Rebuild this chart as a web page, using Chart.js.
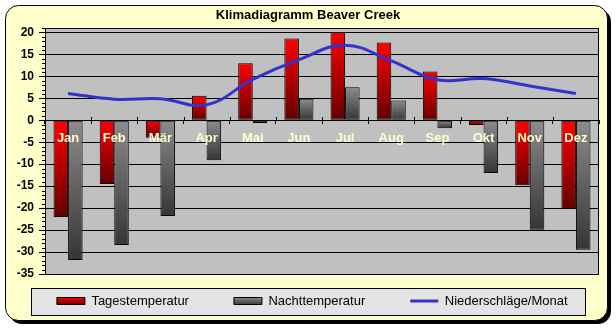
<!DOCTYPE html>
<html>
<head>
<meta charset="utf-8">
<script src="https://cdn.jsdelivr.net/npm/chart.js@4.4.1/dist/chart.umd.min.js"></script>
<style>
  html, body { margin: 0; padding: 0; background: #fff; }
</style>
</head>
<body>
<canvas id="klima" width="616" height="330"></canvas>
<script>
// Data
const months = ["Jan", "Feb", "Mär", "Apr", "Mai", "Jun", "Jul", "Aug", "Sep", "Okt", "Nov", "Dez"];
const dayTemp = [-22, -14.5, -4, 5.6, 13, 18.6, 20.1, 17.7, 11.1, -1.1, -14.8, -20.2];
const nightTemp = [-31.8, -28.4, -21.8, -9.1, -0.6, 4.9, 7.5, 4.5, -1.8, -12, -24.9, -29.5];
const precipitation = [6.1, 4.8, 4.9, 3.5, 9.3, 13.8, 17.1, 13.5, 9.2, 9.5, 7.8, 6.1];
const yTicks = [-35, -30, -25, -20, -15, -10, -5, 0, 5, 10, 15, 20];
const seriesNames = ["Tagestemperatur", "Nachttemperatur", "Niederschläge/Monat"];

const FONT = "'Liberation Sans', Arial, sans-serif";
const RED = ["#ff0000", "#640000"];
const GREY = ["#8c8c8c", "#353535"];
const BLUE = "#3333cc";

// gradient per bar, light at the top of the bar, dark at the bottom
function barFill(colors) {
  return function (ctx) {
    const chart = ctx.chart;
    if (!chart.chartArea || ctx.type !== "data") return colors[0];
    const y = chart.scales.y;
    const v = ctx.raw;
    const g = chart.ctx.createLinearGradient(0, y.getPixelForValue(Math.max(v, 0)), 0, y.getPixelForValue(Math.min(v, 0)));
    g.addColorStop(0, colors[0]);
    g.addColorStop(1, colors[1]);
    return g;
  };
}

// yellow frame, grey plot area, legend box
const frame = {
  id: "frame",
  beforeDraw(chart) {
    const { ctx, chartArea: a } = chart;
    ctx.save();
    ctx.fillStyle = "#000";
    ctx.beginPath();
    ctx.roundRect(9, 9, 602, 315, 13);
    ctx.fill();
    ctx.fillStyle = "#ffffcc";
    ctx.strokeStyle = "#000";
    ctx.lineWidth = 1;
    ctx.beginPath();
    ctx.roundRect(5.5, 5.5, 602, 315, 13);
    ctx.fill();
    ctx.stroke();
    ctx.fillStyle = "#c0c0c0";
    ctx.fillRect(a.left, a.top, a.width, a.height);
    ctx.fillStyle = "#e3e3e3";
    ctx.fillRect(31.5, 288.5, 554, 27);
    ctx.strokeRect(31.5, 288.5, 554, 27);
    ctx.restore();
  },
  beforeDatasetsDraw(chart) {
    const { ctx, chartArea: a, scales } = chart;
    ctx.save();
    ctx.strokeStyle = "#000";
    ctx.lineWidth = 1;
    ctx.strokeRect(Math.round(a.left) + 0.5, Math.round(a.top) + 0.5, Math.round(a.width) - 1, Math.round(a.height));
    // minor ticks on the y axis
    ctx.beginPath();
    for (let v = -35; v <= 21; v++) {
      if (v % 5 === 0) continue;
      const py = Math.round(scales.y.getPixelForValue(v)) + 0.5;
      ctx.moveTo(a.left - 3, py);
      ctx.lineTo(a.left, py);
    }
    // category marks reach a little above the zero line
    const zero = Math.round(scales.y.getPixelForValue(0));
    for (let i = 1; i < months.length; i++) {
      const px = Math.round((scales.x.getPixelForValue(i - 1) + scales.x.getPixelForValue(i)) / 2) + 0.5;
      ctx.moveTo(px, zero - 3);
      ctx.lineTo(px, zero);
    }
    ctx.stroke();
    ctx.restore();
  },
  afterLayout(chart) {
    const lg = chart.legend;
    lg.top = 249.5;
    lg.left = 2;
    lg.right = 622.5;
  },
};

new Chart(document.getElementById("klima"), {
  data: {
    labels: months,
    datasets: [
      {
        type: "bar",
        label: seriesNames[0],
        data: dayTemp,
        backgroundColor: barFill(RED),
        borderColor: "#000",
        borderWidth: 1,
        borderSkipped: false,
        categoryPercentage: 0.63,
        barPercentage: 1,
        order: 1,
      },
      {
        type: "bar",
        label: seriesNames[1],
        data: nightTemp,
        backgroundColor: barFill(GREY),
        borderColor: "#000",
        borderWidth: 1,
        borderSkipped: false,
        categoryPercentage: 0.63,
        barPercentage: 1,
        order: 1,
      },
      {
        type: "line",
        label: seriesNames[2],
        data: precipitation,
        borderColor: BLUE,
        borderWidth: 3,
        pointRadius: 0,
        tension: 0.4,
        fill: false,
        order: 0,
      },
    ],
  },
  options: {
    responsive: false,
    animation: false,
    layout: { padding: 0 },
    plugins: {
      title: {
        display: true,
        text: "Klimadiagramm Beaver Creek",
        color: "#000",
        font: { family: FONT, size: 13, weight: "bold" },
        padding: { top: 8, bottom: 4.4 },
      },
      legend: {
        position: "bottom",
        maxHeight: 56,
        labels: {
          color: "#000",
          font: { family: FONT, size: 13 },
          usePointStyle: true,
          pointStyleWidth: 28,
          boxHeight: 7,
          padding: 45,
          generateLabels(chart) {
            const c = chart.ctx;
            const swatch = (colors) => {
              const g = c.createLinearGradient(0, 297, 0, 305);
              g.addColorStop(0, colors[0]);
              g.addColorStop(1, colors[1]);
              return g;
            };
            return [
              { text: seriesNames[0], fillStyle: swatch(RED), strokeStyle: "#000", lineWidth: 1, pointStyle: "rect", fontColor: "#000", datasetIndex: 0 },
              { text: seriesNames[1], fillStyle: swatch(GREY), strokeStyle: "#000", lineWidth: 1, pointStyle: "rect", fontColor: "#000", datasetIndex: 1 },
              { text: seriesNames[2], fillStyle: BLUE, strokeStyle: BLUE, lineWidth: 3, pointStyle: "line", fontColor: "#000", datasetIndex: 2 },
            ];
          },
        },
      },
      tooltip: { enabled: false },
    },
    scales: {
      x: {
        position: { y: 0 },
        grid: { drawOnChartArea: false, tickLength: 4, tickColor: "#000", offset: true },
        border: { display: false },
        ticks: { z: 1, color: "#ffffcc", font: { family: FONT, size: 13, weight: "bold" }, padding: 6, maxRotation: 0 },
        afterFit(s) { s.height = 0; },
      },
      y: {
        min: -35,
        max: 21,
        afterBuildTicks(s) { s.ticks = yTicks.map(v => ({ value: v })); },
        afterFit(s) { s.width = 45; },
        grid: { color: "#000", tickColor: "#000", tickLength: 6 },
        border: { display: false },
        ticks: { color: "#000", font: { family: FONT, size: 12, weight: "bold" }, padding: 5 },
      },
      // empty right margin between plot and frame
      gap: {
        position: "right",
        grid: { display: false },
        border: { display: false },
        ticks: { display: false },
        afterFit(s) { s.width = 17; },
      },
    },
  },
  plugins: [frame],
});
</script>
</body>
</html>
